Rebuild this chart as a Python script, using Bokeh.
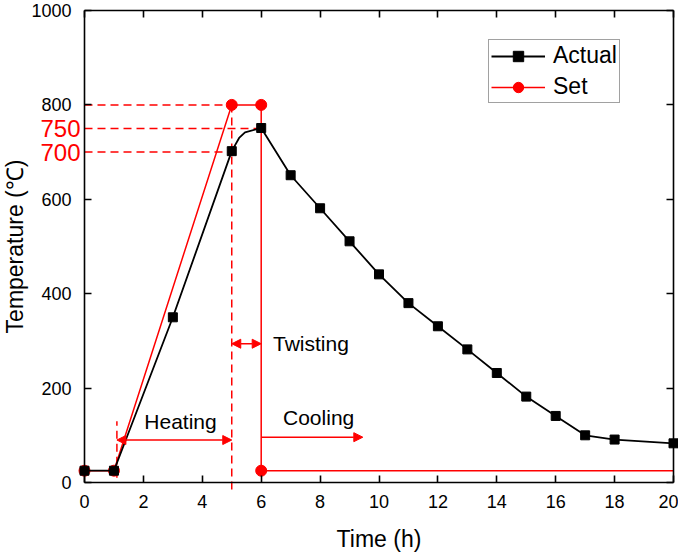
from bokeh.plotting import figure
from bokeh.models import (Range1d, LinearAxis, Arrow, NormalHead, Label, Legend,
                          LegendItem, FixedTicker, ColumnDataSource)
from bokeh.embed import file_html
from bokeh.resources import INLINE

FONT = "Liberation Sans"

# ---- data ----
actual_t = [0, 1, 3, 5, 6, 7, 8, 9, 10, 11, 12, 13, 14, 15, 16, 17, 18, 20]
actual_temp = [25, 25, 350, 702, 751, 651, 581, 511, 441, 380, 331, 282, 232, 182, 141, 100, 91, 83]
# line through the markers, with the rounded shoulder between 5 h and 6 h
curve_t = [0, 1, 3, 5, 5.25, 5.45, 6, 7, 8, 9, 10, 11, 12, 13, 14, 15, 16, 17, 18, 20]
curve_temp = [25, 25, 350, 702, 730, 742, 751, 651, 581, 511, 441, 380, 331, 282, 232, 182, 141, 100, 91, 83]

set_t = [0, 1, 5, 6, 6, 20]
set_temp = [25, 25, 800, 800, 25, 25]
set_marker_t = [0, 1, 5, 6, 6]
set_marker_temp = [25, 25, 800, 800, 25]

ref_levels = [800, 750, 700]          # dashed guide levels
ref_level_end = [5, 6, 5]             # time where each guide ends
phase_t = [1.1, 5]                    # dashed phase boundaries
phase_top = [130, 800]
red_tick_labels = ["750", "700"]
red_tick_values = [750, 700]
y_ticks = [0, 200, 400, 600, 800, 1000]
x_ticks = list(range(0, 21, 2))
T_MIN, T_MAX = 0, 20
Y_MIN, Y_MAX = 0, 1000

# ---- layout: the frame fills the whole canvas, axes are pinned inside it ----
W, H = 678, 553
LEFT, RIGHT, TOP, BOTTOM = 84, 5, 10, 71      # pixel room around the data box
px_x = (W - LEFT - RIGHT) / (T_MAX - T_MIN)
px_y = (H - TOP - BOTTOM) / (Y_MAX - Y_MIN)
x_range = Range1d(T_MIN - LEFT / px_x, T_MAX + RIGHT / px_x)
y_range = Range1d(Y_MIN - BOTTOM / px_y, Y_MAX + TOP / px_y)

p = figure(width=W, height=H, x_range=x_range, y_range=y_range,
           output_backend="svg", toolbar_location=None,
           min_border_left=0, min_border_right=0, min_border_top=0, min_border_bottom=0,
           background_fill_color="white", border_fill_color="white")
p.grid.visible = False
p.outline_line_color = None

def style_axis(ax, labels=True):
    ax.axis_line_color = "black"
    ax.axis_line_width = 1.6
    ax.major_tick_line_color = "black"
    ax.major_tick_line_width = 1.6
    ax.major_tick_in = 7
    ax.major_tick_out = 0
    ax.minor_tick_line_color = None
    ax.major_label_text_font = FONT
    ax.major_label_text_color = "black"
    if labels:
        ax.major_label_text_font_size = "18px"
    else:
        ax.major_label_text_font_size = "0px"
        ax.major_label_standoff = 0

xa = p.xaxis[0]
ya = p.yaxis[0]
xa.ticker = FixedTicker(ticks=x_ticks)
ya.ticker = FixedTicker(ticks=y_ticks)
xa.fixed_location = Y_MIN
ya.fixed_location = T_MIN
xa.bounds = (T_MIN, T_MAX)
ya.bounds = (Y_MIN, Y_MAX)
style_axis(xa)
style_axis(ya)
xa.major_label_standoff = 12
ya.major_label_standoff = 13
xa.axis_label = "Time (h)"
ya.axis_label = "Temperature (\u2103)"
for ax in (xa, ya):
    ax.axis_label_text_font = FONT
    ax.axis_label_text_font_style = "normal"
    ax.axis_label_text_font_size = "23px"
    ax.axis_label_text_color = "black"
xa.axis_label_standoff = 15
ya.axis_label_standoff = 0

top = LinearAxis(ticker=FixedTicker(ticks=x_ticks), fixed_location=Y_MAX, bounds=(T_MIN, T_MAX))
right = LinearAxis(ticker=FixedTicker(ticks=y_ticks), fixed_location=T_MAX, bounds=(Y_MIN, Y_MAX))
style_axis(top, labels=False)
style_axis(right, labels=False)
p.add_layout(top, "above")
p.add_layout(right, "right")

# dashed guide lines
guide_src = ColumnDataSource(dict(x0=[0] * len(ref_levels), x1=ref_level_end,
                                  y=ref_levels))
p.segment(x0="x0", y0="y", x1="x1", y1="y", source=guide_src,
          line_color="red", line_width=1.5, line_dash="8 5")
phase_src = ColumnDataSource(dict(x=phase_t, y0=[10, -15], y1=phase_top))
p.segment(x0="x", y0="y0", x1="x", y1="y1", source=phase_src,
          line_color="red", line_width=1.5, line_dash="8 5")

# series
set_line = p.line(set_t, set_temp, line_color="red", line_width=1.5)
set_pts = p.scatter(set_marker_t, set_marker_temp, marker="circle", size=11,
                    fill_color="red", line_color="red")
act_line = p.line(curve_t, curve_temp, line_color="black", line_width=1.8)
act_pts = p.scatter(actual_t, actual_temp, marker="square", size=9,
                    fill_color="black", line_color="black")

# arrows
def head():
    return NormalHead(size=9, fill_color="red", line_color="red")

p.add_layout(Arrow(start=head(), end=head(), x_start=1.1, y_start=90, x_end=5, y_end=90,
                   line_color="red", line_width=1.5))
p.add_layout(Arrow(start=head(), end=head(), x_start=5, y_start=294, x_end=6, y_end=294,
                   line_color="red", line_width=1.5))
p.add_layout(Arrow(end=head(), x_start=6, y_start=96, x_end=9.45, y_end=96,
                   line_color="red", line_width=1.5))

for txt, x, y, align in [("Heating", 3.26, 130, "center"),
                         ("Twisting", 6.4, 294, "left"),
                         ("Cooling", 7.95, 137, "center")]:
    p.add_layout(Label(x=x, y=y, text=txt, text_font=FONT, text_font_size="21px",
                       text_color="black", text_align=align, text_baseline="middle"))

# red labels for the 750 / 700 guide levels, left of the temperature axis
for txt, v in zip(red_tick_labels, red_tick_values):
    p.add_layout(Label(x=T_MIN, y=v, x_offset=-4, text=txt, text_font=FONT,
                       text_font_size="24px", text_color="red",
                       text_align="right", text_baseline="middle"))

legend = Legend(items=[LegendItem(label="Actual", renderers=[act_line, act_pts]),
                       LegendItem(label="Set", renderers=[set_line, set_pts])],
                location=(488, 450))
legend.label_text_font = FONT
legend.label_text_font_size = "23px"
legend.label_text_color = "black"
legend.glyph_width = 54
legend.glyph_height = 26
legend.label_height = 26
legend.spacing = 4
legend.padding = 2
legend.margin = 0
legend.label_standoff = 8
legend.border_line_color = "#444444"
legend.border_line_width = 1
legend.background_fill_color = "white"
legend.background_fill_alpha = 1
p.add_layout(legend, "center")

open("out.html", "w").write(file_html(p, INLINE))
